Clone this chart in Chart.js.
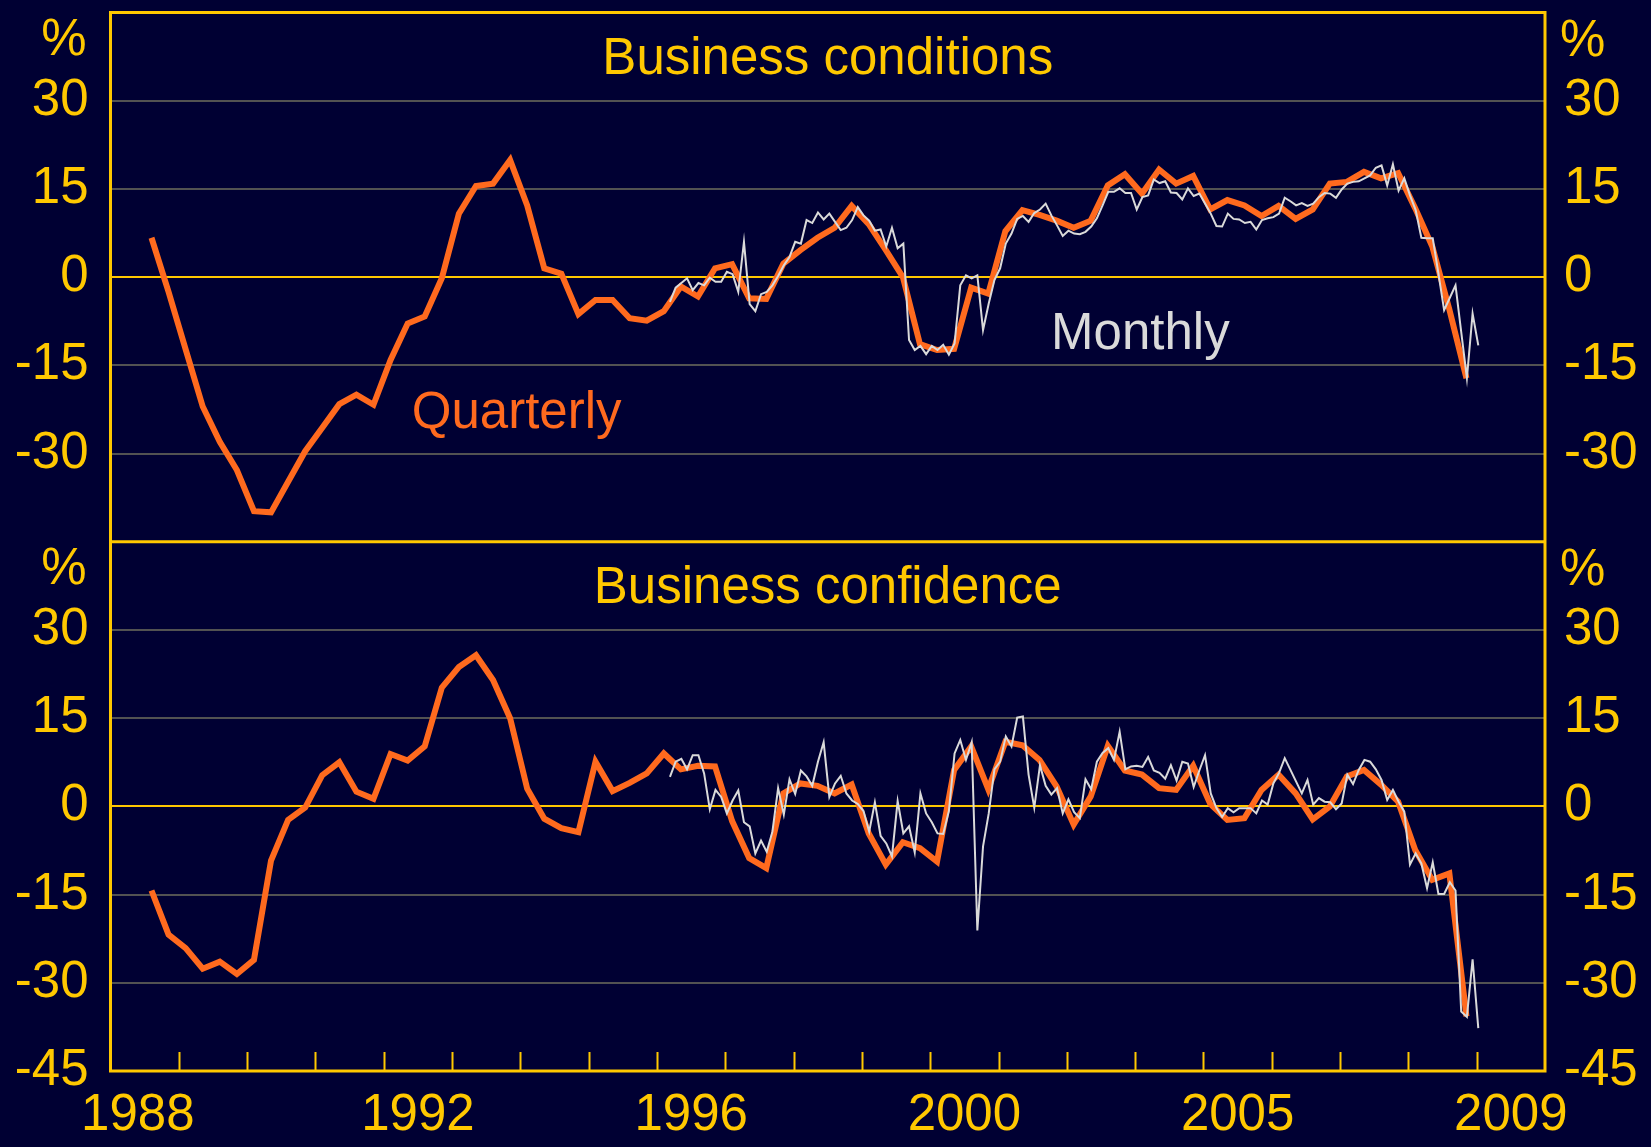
<!DOCTYPE html>
<html><head><meta charset="utf-8">
<script src="https://cdn.jsdelivr.net/npm/chart.js@4.4.1/dist/chart.umd.min.js"></script>
<style>html,body{margin:0;padding:0;background:#000033;overflow:hidden}canvas{display:block}</style>
</head><body>
<canvas id="c" width="1651" height="1147"></canvas>
<script>
// ---------- data ----------
const xTickLabels = ['1988', '1992', '1996', '2000', '2005', '2009'];
const xTickAt = [1988.4, 1992.5, 1996.5, 2000.5, 2004.5, 2008.5];
const yTicksTop = [30, 15, 0, -15, -30];
const yTicksBottom = [30, 15, 0, -15, -30, -45];
const quarterlyStart = 1988.6;   // axis-year of first quarterly observation
const monthlyStart = 1996.19;    // axis-year of first monthly observation

const conditionsQuarterly = [6.7, -2.5, -12.3, -22.0, -28.0, -32.8, -39.8, -40.0, -34.8, -29.6,
  -25.6, -21.6, -20.0, -21.7, -14.1, -7.9, -6.7, -0.2, 10.8, 15.5,
  15.9, 19.9, 12.2, 1.5, 0.6, -6.3, -3.9, -3.9, -7.0, -7.4,
  -5.8, -1.6, -3.3, 1.5, 2.2, -3.6, -3.7, 2.3, 4.6, 6.7,
  8.4, 12.1, 9.0, 4.6, 0.0, -11.4, -12.4, -12.2, -1.8, -2.8,
  7.8, 11.4, 10.6, 9.6, 8.4, 9.6, 15.6, 17.5, 14.2, 18.3,
  15.9, 17.2, 11.5, 13.1, 12.2, 10.4, 12.1, 9.9, 11.5, 15.9,
  16.2, 17.9, 16.8, 17.7, 11.7, 5.2, -5.5, -17.2];

const conditionsMonthly = [-4.2, -1.8, -1.0, -0.2, -2.2, -1.0, -1.4, -0.1, -0.8, -0.8,
  0.9, 0.5, -2.5, 6.0, -4.6, -5.8, -2.9, -2.5, -1.4, 0.2,
  2.0, 3.4, 6.0, 5.7, 9.7, 9.2, 11.0, 9.8, 10.8, 9.4,
  8.0, 8.4, 9.7, 11.9, 10.5, 9.6, 7.9, 8.1, 5.2, 8.4,
  4.9, 5.7, -10.7, -12.4, -11.7, -13.1, -11.7, -12.4, -11.5, -13.2,
  -11.3, -1.4, 0.3, -0.2, 0.3, -9.0, -4.5, -0.5, 1.5, 5.7,
  7.4, 9.9, 10.4, 9.4, 10.9, 11.5, 12.5, 10.5, 8.8, 7.0,
  7.9, 7.4, 7.3, 7.7, 8.6, 10.0, 12.2, 14.5, 14.5, 15.1,
  14.3, 14.3, 11.5, 13.6, 13.9, 16.6, 16.0, 16.3, 14.4, 14.3,
  13.2, 15.1, 13.8, 14.2, 12.5, 10.8, 8.7, 8.6, 10.8, 9.9,
  9.8, 9.2, 9.4, 8.1, 9.7, 10.0, 10.2, 10.8, 13.5, 12.9,
  12.2, 12.6, 12.1, 12.5, 13.6, 14.3, 14.2, 13.5, 14.9, 15.9,
  16.2, 16.3, 16.8, 17.3, 18.6, 19.0, 15.6, 19.2, 14.7, 16.8,
  13.9, 11.4, 6.7, 6.6, 6.6, 0.6, -5.6, -3.5, -1.4, -9.3,
  -17.2, -6.2, -11.6];

const confidenceQuarterly = [-14.3, -21.8, -24.1, -27.6, -26.4, -28.5, -26.1, -9.2, -2.3, -0.2,
  5.3, 7.5, 2.5, 1.3, 8.9, 7.8, 10.2, 20.2, 23.7, 25.7,
  21.5, 15.0, 3.0, -2.1, -3.7, -4.4, 7.6, 2.6, 4.0, 5.6,
  9.0, 6.3, 6.9, 6.8, -2.5, -8.8, -10.5, 2.2, 3.9, 3.5,
  2.2, 3.7, -4.6, -9.9, -6.1, -7.1, -9.4, 6.2, 10.2, 2.9,
  11.0, 10.4, 7.9, 3.4, -3.1, 1.7, 10.3, 6.1, 5.4, 3.1,
  2.8, 6.9, 0.4, -2.3, -2.0, 2.8, 5.4, 2.2, -2.2, 0.0,
  5.1, 6.2, 3.7, 0.8, -7.4, -12.5, -11.4, -35.7];

const confidenceMonthly = [5.0, 7.6, 8.1, 6.3, 8.7, 8.7, 5.6, -0.5, 2.8, 1.6,
  -1.2, 1.0, 2.7, -2.7, -3.4, -8.0, -5.8, -7.7, -4.3, 3.1,
  -1.4, 4.6, 2.1, 6.1, 5.1, 3.5, 7.6, 10.9, 1.6, 3.9,
  5.2, 2.2, 1.0, 0.4, -0.8, -4.3, 0.7, -5.0, -6.3, -8.5,
  0.9, -4.6, -3.4, -7.8, 2.2, -1.2, -2.7, -4.6, -4.7, -0.8,
  9.0, 11.3, 7.9, 10.9, -21.1, -6.8, -1.2, 6.3, 7.6, 11.9,
  10.2, 15.1, 15.3, 5.4, -0.2, 7.0, 3.5, 2.0, 3.1, -1.2,
  1.2, -1.0, -2.0, 4.6, 2.9, 7.6, 9.1, 9.9, 7.9, 12.7,
  6.3, 6.8, 6.9, 6.7, 8.4, 6.1, 5.7, 4.7, 7.0, 4.4,
  7.6, 7.3, 3.3, 6.1, 8.7, 2.2, -0.3, -1.8, -0.3, -1.0,
  -0.3, -0.3, -0.3, -1.2, 1.0, 0.3, 3.9, 5.7, 8.2, 6.2,
  4.2, 2.2, 4.5, 0.3, 1.4, 0.8, 0.7, -0.5, 0.5, 5.4,
  3.8, 6.2, 7.9, 7.6, 6.3, 4.5, 1.1, 2.8, 0.8, -0.9,
  -9.9, -8.0, -9.7, -13.9, -9.5, -14.9, -14.9, -12.9, -14.3, -34.9,
  -35.8, -26.0, -37.7];

const panelTitles = ['Business conditions', 'Business confidence'];
const seriesNames = ['Quarterly', 'Monthly'];

// ---------- styling ----------
const FONT = "'Liberation Sans', Arial, Helvetica, sans-serif";
const YEL = '#FFC800', ORANGE = '#FF6A1E', WHITE = '#DADADA', GRID = '#525252';
const FS = 51;

function series(start, step, vals) { return vals.map((v, i) => ({ x: start + i * step, y: v })); }

function yAxis(pos, ticksArr, weight) {
  return {
    type: 'linear', position: pos, stack: pos === 'left' ? 'L' : 'R', stackWeight: 1, weight: weight,
    min: -45, max: 45,
    afterBuildTicks: s => { s.ticks = ticksArr.map(v => ({ value: v })); },
    afterFit: s => { s.width = pos === 'left' ? 110.5 : 106; s.paddingTop = 0; s.paddingBottom = 0; },
    grid: {
      display: pos === 'left', drawTicks: false, lineWidth: 2,
      color: c => (c.tick && c.tick.value === 0) ? YEL : ((c.tick && c.tick.value === -45) ? 'rgba(0,0,0,0)' : GRID)
    },
    border: { display: false },
    ticks: {
      color: YEL, font: { family: FONT, size: FS }, padding: pos === 'left' ? 22 : 19,
      autoSkip: false, includeBounds: false
    }
  };
}

const labelPlugin = {
  id: 'frameAndLabels',
  afterDraw(chart) {
    const { ctx, chartArea: a, scales } = chart;
    const x = scales.x, yT = scales.yTop, yB = scales.yBot;
    ctx.save();
    // year tick marks (pointing up into the plot)
    ctx.strokeStyle = YEL; ctx.lineWidth = 2;
    for (let yr = 1989; yr <= 2008; yr++) {
      const px = Math.round(x.getPixelForValue(yr)) + 0.5;
      ctx.beginPath(); ctx.moveTo(px, a.bottom); ctx.lineTo(px, a.bottom - 19); ctx.stroke();
    }
    // frame + divider
    ctx.lineWidth = 3;
    ctx.strokeRect(a.left, a.top, a.right - a.left, a.bottom - a.top);
    ctx.beginPath(); ctx.moveTo(a.left, yT.bottom); ctx.lineTo(a.right, yT.bottom); ctx.stroke();
    // texts
    ctx.font = FS + 'px ' + FONT;
    ctx.textBaseline = 'alphabetic';
    const cx = (a.left + a.right) / 2;
    [yT, yB].forEach((s, i) => {
      ctx.fillStyle = YEL;
      ctx.textAlign = 'center';
      ctx.fillText(panelTitles[i], cx, s.top + 61.5);
      ctx.textAlign = 'right';
      ctx.fillText('%', a.left - 24, s.top + 42);
      ctx.textAlign = 'left';
      ctx.fillText('%', a.right + 15, s.top + 43);
    });
    ctx.textAlign = 'left';
    ctx.fillStyle = ORANGE;
    ctx.fillText(seriesNames[0], x.getPixelForValue(1992.41), yT.getPixelForValue(-25.6));
    ctx.fillStyle = WHITE;
    ctx.fillText(seriesNames[1], x.getPixelForValue(2001.77), yT.getPixelForValue(-12.2));
    ctx.restore();
  }
};

const ds = (data, yId, color, w, order) => ({
  data, yAxisID: yId, xAxisID: 'x', borderColor: color, borderWidth: w,
  pointRadius: 0, tension: 0, fill: false, order, borderJoinStyle: 'miter'
});

new Chart(document.getElementById('c'), {
  type: 'line',
  data: {
    datasets: [
      ds(series(monthlyStart, 1 / 12, conditionsMonthly), 'yTop', WHITE, 2, 1),
      ds(series(quarterlyStart, 0.25, conditionsQuarterly), 'yTop', ORANGE, 6, 2),
      ds(series(monthlyStart, 1 / 12, confidenceMonthly), 'yBot', WHITE, 2, 1),
      ds(series(quarterlyStart, 0.25, confidenceQuarterly), 'yBot', ORANGE, 6, 2)
    ]
  },
  options: {
    responsive: false, animation: false, devicePixelRatio: 1,
    layout: { padding: { top: 12.5, left: 0, right: 0, bottom: 0 } },
    plugins: { legend: { display: false }, tooltip: { enabled: false } },
    scales: {
      x: {
        type: 'linear', position: 'bottom', min: 1988, max: 2009,
        afterBuildTicks: s => { s.ticks = xTickAt.map(v => ({ value: v })); },
        afterFit: s => { s.height = 76; s.paddingLeft = 0; s.paddingRight = 0; },
        grid: { display: false, drawTicks: false },
        border: { display: false },
        ticks: {
          color: YEL, font: { family: FONT, size: FS }, padding: 14, maxRotation: 0, autoSkip: false,
          callback: (v, i) => xTickLabels[i]
        }
      },
      yTop: yAxis('left', yTicksTop, 1),
      yBot: yAxis('left', yTicksBottom, 0),
      yTopR: yAxis('right', yTicksTop, 0),
      yBotR: yAxis('right', yTicksBottom, 1)
    }
  },
  plugins: [labelPlugin]
});
</script>
</body></html>
